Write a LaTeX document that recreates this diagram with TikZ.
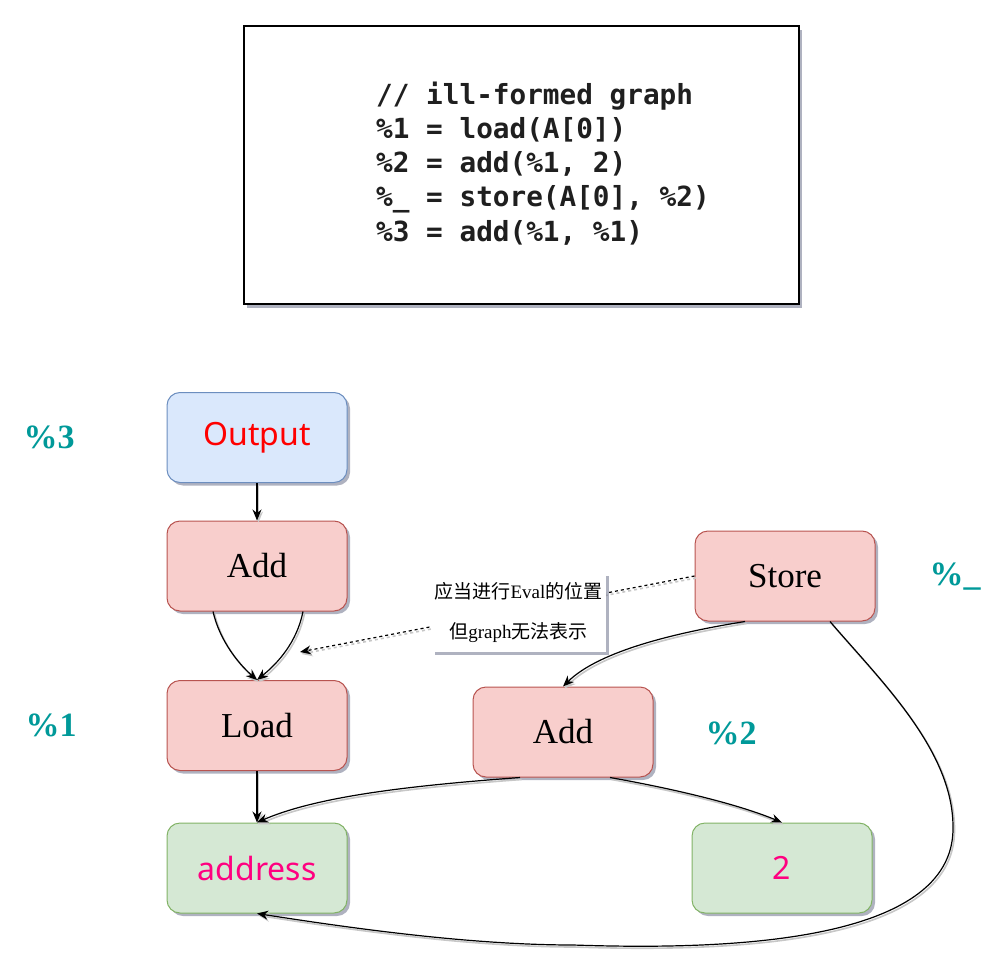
\documentclass[tikz,border=0pt]{standalone}
\usepackage{fontspec}
\setmainfont{Liberation Serif}
\newfontfamily\cjk{Noto Sans CJK SC}
\newfontfamily\comic{Noto Sans}
\newfontfamily\codefont{DejaVu Sans Mono}
\usetikzlibrary{arrows.meta,shadows,calc}
\definecolor{bluefill}{HTML}{DAE8FC}
\definecolor{bluedraw}{HTML}{6C8EBF}
\definecolor{redfill}{HTML}{F8CECC}
\definecolor{reddraw}{HTML}{B85450}
\definecolor{greenfill}{HTML}{D5E8D4}
\definecolor{greendraw}{HTML}{82B366}
\definecolor{tealtxt}{RGB}{0,153,153}
\definecolor{pinktxt}{HTML}{FF0080}
\definecolor{shadowc}{RGB}{110,115,140}
\newcommand\myfs[1]{\fontsize{#1}{#1}\selectfont}
\tikzset{
  shad/.style={drop shadow={shadow xshift=3pt, shadow yshift=-3pt, fill=shadowc, opacity=0.55}},
  box/.style={rounded corners=13pt, minimum width=180pt, minimum height=90pt, line width=1pt, shad, inner sep=0pt},
  bluebox/.style={box, fill=bluefill, draw=bluedraw, text=red, font=\comic\myfs{32}},
  redbox/.style={box, fill=redfill, draw=reddraw, text=black, font=\myfs{35}},
  greenbox/.style={box, fill=greenfill, draw=greendraw, text=pinktxt, font=\comic\myfs{32}},
  lbl/.style={text=tealtxt, font=\bfseries\myfs{34}},
  codeline/.style={anchor=base west, inner sep=0pt, font=\codefont\bfseries\myfs{27.7}, text=black!88},
  edge/.style={line width=1.2pt, -{Stealth[length=11pt,width=9pt]},
    preaction={draw=black!22, line width=1.6pt, transform canvas={shift={(1.5pt,-2pt)}}}},
  dashedge/.style={line width=1.2pt, dashed, -{Stealth[length=11pt,width=9pt]},
    preaction={draw=black!22, dashed, line width=1.6pt, transform canvas={shift={(1.5pt,-2pt)}}}},
}
\begin{document}
\begin{tikzpicture}[x=1pt,y=-1pt]
\useasboundingbox (0,0) rectangle (1001,960);
% code box
\node[draw=black, line width=1.2pt, fill=white, minimum width=555pt, minimum height=278pt, inner sep=0pt,
  drop shadow={shadow xshift=3pt, shadow yshift=-4pt, fill=shadowc, opacity=0.55}] (code) at (521.5,165) {};
\node[codeline] (c1) at (376,105) {// ill-formed graph};
\node[codeline] (c2) at (376,139) {\%1 = load(A[0])};
\node[codeline] (c3) at (376,173) {\%2 = add(\%1, 2)};
\node[codeline] (c4) at (376,207) {\%\_ = store(A[0], \%2)};
\node[codeline] (c5) at (376,241) {\%3 = add(\%1, \%1)};
% nodes
\node[bluebox] (out) at (257,437.5) {Output};
\node[redbox] (add1) at (257,566) {Add};
\node[redbox] (load) at (257,725.5) {Load};
\node[greenbox] (addr) at (257,868) {address};
\node[redbox] (store) at (785,576) {Store};
\node[redbox] (add2) at (563,732) {Add};
\node[greenbox] (two) at (782,868) {2};
% labels
\node[lbl] (l3) at (49,437) {\%3};
\node[lbl] (l1) at (51,725) {\%1};
\node[lbl] (l2) at (731,733) {\%2};
\node[lbl] (lu) at (955,577) {\%\_};
% edges
\draw[edge] (out.south) -- (add1.north);
\draw[edge] ([xshift=-44pt]add1.south) .. controls (220,642) and (240,665) .. (load.north);
\draw[edge] ([xshift=46pt]add1.south) .. controls (297,642) and (278,663) .. (load.north);
\draw[edge] (load.south) -- (addr.north);
\draw[edge] ([xshift=-40pt]store.south) .. controls (680,632) and (600,650) .. (add2.north);
\draw[edge] ([xshift=45pt]store.south) .. controls (880,680) and (953,750) .. (953,827)
  .. controls (955,945) and (720,950) .. (573,945)
  .. controls (470,945) and (350,928) .. (addr.south);
\draw[edge] ([xshift=-43pt]add2.south) .. controls (420,785) and (320,795) .. (addr.north);
\draw[edge] ([xshift=47pt]add2.south) .. controls (680,790) and (740,805) .. (two.north);
\coordinate (dend) at (300,652);
\draw[dashedge] (store.west) -- (dend);
\node[fill=white, minimum width=174pt, minimum height=79pt, inner sep=0pt, align=center,
  font=\fontsize{19}{40}\selectfont, shad] (note) at (518.5,612.5)
  {{\cjk 应当进行}Eval{\cjk 的位置}\\{\cjk 但}graph{\cjk 无法表示}};
\end{tikzpicture}
\end{document}
